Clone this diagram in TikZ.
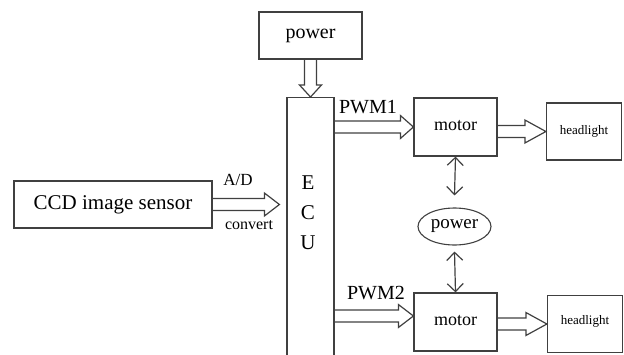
\documentclass[tikz,border=0pt]{standalone}
\usepackage{fontspec}
\setmainfont{Liberation Serif}
\usetikzlibrary{arrows.meta, positioning, shapes.geometric, calc}
\tikzset{
  block/.style={rectangle, draw=black!75, line width=1.2pt, inner sep=0pt,
                font=\fontsize{20}{24}\selectfont},
  ovalblock/.style={ellipse, draw=black!75, line width=1.1pt, inner sep=0pt,
                minimum width=73pt, minimum height=37pt, font=\fontsize{19}{23}\selectfont},
  motorblock/.style={block, minimum width=83pt, minimum height=58pt,
                font=\fontsize{18}{22}\selectfont},
  lampblock/.style={block, minimum width=75pt, minimum height=57pt,
                font=\fontsize{13}{16}\selectfont},
  sig/.style={inner sep=0pt, font=\fontsize{20}{24}\selectfont},
  hollowline/.style={draw=black!75, line width=1.2pt, line join=miter},
  hollowr/.style={hollowline, to path={let \p1=(\tikztostart), \p2=(\tikztotarget) in
      (\x1,\y1+6pt) -- (\x2-#1,\y1+6pt) -- (\x2-#1,\y1+11.5pt) -- (\x2,\y1)
      -- (\x2-#1,\y1-11.5pt) -- (\x2-#1,\y1-6pt) -- (\x1,\y1-6pt)}},
  hollowr/.default=15pt,
  hollowd/.style={hollowline, to path={let \p1=(\tikztostart), \p2=(\tikztotarget) in
      (\x1-6pt,\y1) -- (\x1-6pt,\y2+12pt) -- (\x1-11pt,\y2+12pt) -- (\x1,\y2)
      -- (\x1+11pt,\y2+12pt) -- (\x1+6pt,\y2+12pt) -- (\x1+6pt,\y1)}},
  dblarrow/.style={draw=black!75, line width=1.2pt,
      {Straight Barb[length=8pt, width=16pt]}-{Straight Barb[length=8pt, width=16pt]}},
}

\begin{document}
\begin{tikzpicture}[x=1pt, y=-1pt]
    \useasboundingbox (0,0) rectangle (624,354);
    % Blocks
    \node[block, minimum width=103pt, minimum height=47pt] (pwrtop) at (310.5,35.5) {power};
    \node[block, minimum width=47pt, minimum height=300pt, anchor=north] (ECU) at (310.5,97) {};
    \node[sig, font=\fontsize{21}{30}\selectfont, align=center] (ecutxt) at (308,213) {E\\C\\U};
    \node[block, minimum width=198pt, minimum height=47pt,
          font=\fontsize{21}{25}\selectfont] (CCD) at (113,204.5) {CCD image sensor};
    \node[motorblock] (motor1) at (455.5,127) {\raisebox{4pt}{motor}};
    \node[lampblock] (head1) at (584,131.5) {\raisebox{4pt}{headlight}};
    \node[ovalblock] (pwrmid) at (454.5,226.5) {power};
    \node[motorblock] (motor2) at (455.5,322) {\raisebox{4pt}{motor}};
    \node[lampblock] (head2) at (585,324) {\raisebox{8pt}{headlight}};
    % Signal labels
    \node[sig] (pwm1) at (368,107) {PWM1};
    \node[sig] (pwm2) at (376,293) {PWM2};
    \node[sig, font=\fontsize{17}{20}\selectfont] (ad) at (238,180) {A/D};
    \node[sig, font=\fontsize{16}{19}\selectfont] (conv) at (249,225) {convert};
    % Hollow arrows
    \draw[hollowd] (pwrtop.south) to (ECU.north);
    \draw[hollowr] (CCD.east) to ([xshift=-7pt]ECU.west |- CCD.east);
    \draw[hollowr=13pt] (ECU.east |- motor1.west) to (motor1.west);
    \draw[hollowr=21pt] (motor1.east |- head1.west) to (head1.west);
    \draw[hollowr] ($(ECU.east |- motor2.west)+(0,-6)$) to ($(motor2.west)+(0,-6)$);
    \draw[hollowr=21pt] (motor2.east |- head2.west) to (head2.west);
    % Power links
    \draw[dblarrow] (motor1.south) -- ([yshift=12pt]pwrmid.north);
    \draw[dblarrow] ([yshift=-6pt]pwrmid.south) -- (motor2.north);
\end{tikzpicture}
\end{document}
